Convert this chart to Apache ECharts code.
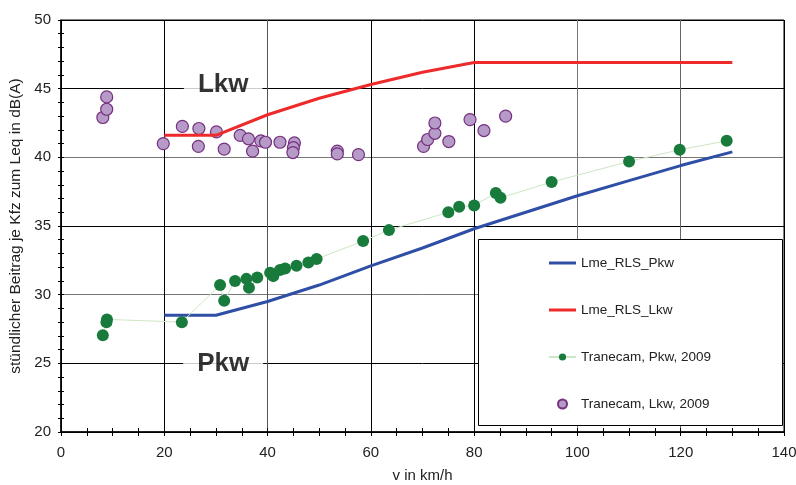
<!DOCTYPE html>
<html>
<head>
<meta charset="utf-8">
<script src="https://cdn.jsdelivr.net/npm/echarts@6/dist/echarts.min.js"></script>
<style>
  html, body { margin: 0; padding: 0; background: #fff; }
  #chart { width: 796px; height: 485px; }
</style>
</head>
<body>
<div id="chart"></div>
<script>
'use strict'

// RLS-90 curves (v in km/h, dB(A))
const rlsSpeeds = [20, 30, 40, 50, 60, 70, 80, 90, 100, 110, 120, 130]
const rlsPkw = [28.5, 28.5, 29.5, 30.7, 32.1, 33.4, 34.8, 36.0, 37.2, 38.3, 39.4, 40.4]
const rlsLkw = [41.6, 41.6, 43.1, 44.3, 45.3, 46.2, 46.9, 46.9, 46.9, 46.9, 46.9, 46.9]

// Tranecam 2009, Pkw measurements
const pkwSpeed = [8.1, 8.8, 8.9, 23.4, 30.8, 31.6, 33.7, 35.9, 36.4, 38.0, 40.5, 41.1, 42.4, 43.4,
  45.6, 47.9, 49.5, 58.5, 63.5, 75.0, 77.1, 80.0, 84.2, 85.1, 95.0, 110.0, 119.8, 128.9]
const pkwLevel = [27.05, 28.0, 28.2, 28.0, 30.7, 29.55, 31.0, 31.15, 30.5, 31.25, 31.6, 31.35, 31.8, 31.9,
  32.1, 32.35, 32.6, 33.9, 34.7, 36.0, 36.4, 36.5, 37.4, 37.05, 38.2, 39.7, 40.55, 41.2]

// Tranecam 2009, Lkw measurements
const lkwSpeed = [8.1, 8.85, 8.85, 19.8, 23.5, 26.7, 26.6, 30.1, 31.6, 34.7, 36.3, 37.1, 38.7, 39.6,
  42.4, 45.2, 45.0, 44.9, 53.5, 53.5, 57.6, 70.2, 71.0, 72.4, 72.4, 75.1, 79.2, 81.9, 86.1]
const lkwLevel = [42.9, 43.5, 44.4, 41.0, 42.25, 42.1, 40.8, 41.85, 40.6, 41.6, 41.35, 40.45, 41.2, 41.1,
  41.1, 41.05, 40.7, 40.35, 40.45, 40.25, 40.2, 40.8, 41.3, 41.75, 42.5, 41.15, 42.75, 41.95, 43.0]

const seriesNames = ['Lme_RLS_Pkw', 'Lme_RLS_Lkw', 'Tranecam, Pkw, 2009', 'Tranecam, Lkw, 2009']
const xTitle = 'v in km/h'
const yTitle = 'stündlicher Beitrag je Kfz zum Leq in dB(A)'

// labels written into the plot
const noteText = ['Lkw', 'Pkw']
const noteSpeed = [31.4, 31.4]
const noteLevel = [45.25, 25.0]

const FONT = '"Liberation Sans", Arial, sans-serif'
const LINE_ICON = 'path://M0,0H27V3H0Z'
const zip = (xs, ys) => xs.map((x, i) => [x, ys[i]])

const chart = echarts.init(document.getElementById('chart'), null, { renderer: 'canvas' })

const xBase = { type: 'value', min: 0, max: 140, interval: 20 }
const yBase = { type: 'value', min: 20, max: 50, interval: 5 }

const option = {
  animation: false,
  backgroundColor: '#fff',
  textStyle: { fontFamily: FONT },
  grid: {
    left: 61, right: 12, top: 20, bottom: 53,
    outerBoundsMode: 'none',
    containLabel: false,
    show: true, borderColor: '#000', borderWidth: 1, backgroundColor: 'transparent'
  },
  xAxis: [
    Object.assign({}, xBase, {
      name: xTitle,
      nameLocation: 'middle',
      nameGap: 36,
      nameTextStyle: { fontSize: 15, color: '#222', fontFamily: FONT },
      axisLine: { lineStyle: { color: '#000', width: 1.5 } },
      axisTick: { length: 4, lineStyle: { color: '#000' } },
      minorTick: { show: true, splitNumber: 4, length: 4, lineStyle: { color: '#000' } },
      axisLabel: { fontSize: 15, color: '#222', margin: 13, fontFamily: FONT },
      splitLine: {
        show: true,
        lineStyle: { color: ['#000', '#000', '#555', '#000', '#000', '#777', '#666', '#000'], width: 1 }
      }
    }),
    Object.assign({}, xBase, {
      position: 'bottom',
      axisLine: { show: false },
      axisTick: { inside: true, length: 4, lineStyle: { color: '#000' } },
      minorTick: { show: true, splitNumber: 4, length: 4, lineStyle: { color: '#000' } },
      axisLabel: { show: false },
      splitLine: { show: false }
    })
  ],
  yAxis: [
    Object.assign({}, yBase, {
      name: yTitle,
      nameLocation: 'middle',
      nameGap: 33,
      nameTextStyle: { fontSize: 15.5, color: '#222', fontFamily: FONT },
      axisLine: { show: true, lineStyle: { color: '#000', width: 1.5 } },
      axisTick: { show: true, length: 3, lineStyle: { color: '#000' } },
      minorTick: { show: true, splitNumber: 5, length: 3, lineStyle: { color: '#000' } },
      axisLabel: { fontSize: 15, color: '#222', margin: 10, fontFamily: FONT },
      splitLine: {
        show: true,
        lineStyle: { color: ['#000', '#000', '#777', '#000', '#777', '#000', '#000'], width: 1 }
      }
    }),
    Object.assign({}, yBase, {
      position: 'left',
      axisLine: { show: false },
      axisTick: { show: true, inside: true, length: 3, lineStyle: { color: '#000' } },
      minorTick: { show: true, splitNumber: 5, length: 3, lineStyle: { color: '#000' } },
      axisLabel: { show: false },
      splitLine: { show: false }
    })
  ],
  legend: {
    data: [
      { name: seriesNames[0], icon: LINE_ICON },
      { name: seriesNames[1], icon: LINE_ICON },
      { name: seriesNames[2] },
      { name: seriesNames[3] }
    ],
    orient: 'vertical',
    left: 548,
    top: 256,
    padding: 0,
    itemWidth: 27,
    itemHeight: 9,
    itemGap: 33,
    textStyle: { fontSize: 13.5, color: '#222', lineHeight: 14, fontFamily: FONT },
    z: 6
  },
  // legend frame
  graphic: [{
    type: 'rect',
    left: 478,
    top: 239,
    z: 5,
    shape: { width: 304, height: 186 },
    style: { fill: '#fff', stroke: '#000', lineWidth: 1 }
  }],
  series: [
    {
      name: seriesNames[0],
      type: 'line',
      data: zip(rlsSpeeds, rlsPkw),
      symbol: 'none',
      lineStyle: { color: '#2f4fa7', width: 3 },
      itemStyle: { color: '#2f4fa7' }
    },
    {
      name: seriesNames[1],
      type: 'line',
      data: zip(rlsSpeeds, rlsLkw),
      symbol: 'none',
      lineStyle: { color: '#ee2a2a', width: 3 },
      itemStyle: { color: '#ee2a2a' }
    },
    {
      name: seriesNames[2],
      type: 'line',
      data: zip(pkwSpeed, pkwLevel),
      symbol: 'circle',
      symbolSize: 12,
      lineStyle: { color: '#cde6c5', width: 1 },
      itemStyle: { color: '#187b3c' }
    },
    {
      name: seriesNames[3],
      type: 'scatter',
      data: zip(lkwSpeed, lkwLevel),
      symbol: 'circle',
      symbolSize: 12,
      itemStyle: { color: '#b69bc8', borderColor: '#76307f', borderWidth: 1.2, opacity: 1 }
    },
    {
      name: 'notes',
      type: 'scatter',
      silent: true,
      symbolSize: 0,
      z: 3,
      data: noteText.map((t, i) => ({ value: [noteSpeed[i], noteLevel[i]], name: t })),
      label: {
        show: true,
        position: 'inside',
        formatter: p => p.name,
        fontSize: 26,
        fontWeight: 'bold',
        color: '#000',
        fontFamily: FONT,
        backgroundColor: '#fff',
        padding: [2, 14]
      }
    }
  ]
}

chart.setOption(option)
</script>
</body>
</html>
